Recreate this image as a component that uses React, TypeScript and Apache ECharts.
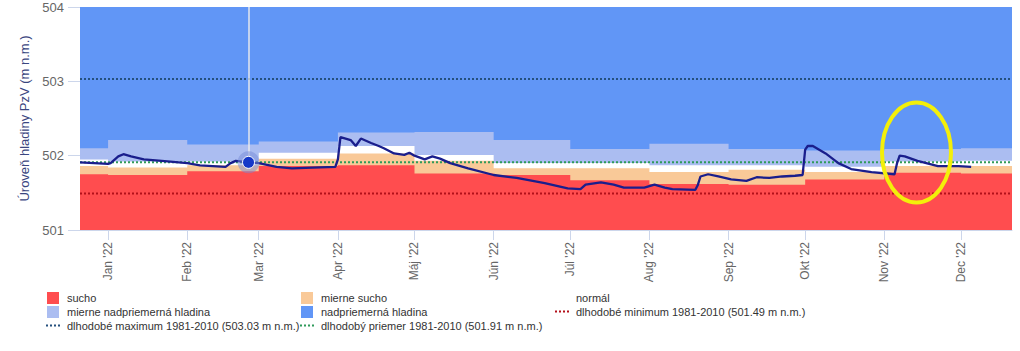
import React, { useEffect, useRef } from "react";
import * as echarts from "echarts";

const monthNames = ["Jan", "Feb", "Mar", "Apr", "Máj", "Jún", "Júl", "Aug", "Sep", "Okt", "Nov", "Dec"];
const tickDates = [
  "2022-01-01", "2022-02-01", "2022-03-01", "2022-04-01", "2022-05-01", "2022-06-01",
  "2022-07-01", "2022-08-01", "2022-09-01", "2022-10-01", "2022-11-01", "2022-12-01",
];
const rangeStart = "2021-12-21";
const rangeEnd = "2022-12-21";

// band boundaries (upper edge of each zone), step per month
const bandDates = [
  "2021-12-21", "2022-01-01", "2022-02-01", "2022-03-01", "2022-04-01", "2022-05-01", "2022-06-01",
  "2022-07-01", "2022-08-01", "2022-09-01", "2022-10-01", "2022-11-01", "2022-12-01", "2022-12-21",
];
const suchoTop = [501.75, 501.74, 501.79, 501.86, 501.87, 501.76, 501.74, 501.67, 501.62, 501.61, 501.68, 501.77, 501.76, 501.76];
const mierneSuchoTop = [501.86, 501.84, 501.87, 501.96, 502.03, 501.93, 501.83, 501.83, 501.78, 501.81, 501.78, 501.86, 501.86, 501.86];
const normalTop = [501.95, 501.92, 501.92, 502.04, 502.13, 502.01, 501.90, 501.90, 501.87, 501.87, 501.85, 501.92, 501.93, 501.93];
const mierneNadTop = [502.10, 502.21, 502.15, 502.19, 502.31, 502.32, 502.21, 502.09, 502.16, 502.09, 502.07, 502.09, 502.10, 502.10];
const nadTop = [504, 504, 504, 504, 504, 504, 504, 504, 504, 504, 504, 504, 504, 504];

const longMax = 503.03;
const longMean = 501.91;
const longMin = 501.49;

const levelDates = [
  "2021-12-21", "2022-01-01", "2022-01-02", "2022-01-05", "2022-01-07", "2022-01-10", "2022-01-15", "2022-01-22",
  "2022-02-01", "2022-02-06", "2022-02-16", "2022-02-18", "2022-02-20", "2022-02-25",
  "2022-03-01", "2022-03-08", "2022-03-14", "2022-03-22", "2022-03-31",
  "2022-04-01", "2022-04-02", "2022-04-06", "2022-04-08", "2022-04-10", "2022-04-14", "2022-04-17", "2022-04-19",
  "2022-04-23", "2022-04-27", "2022-04-29",
  "2022-05-01", "2022-05-05", "2022-05-08", "2022-05-11", "2022-05-15", "2022-05-22",
  "2022-06-01", "2022-06-10", "2022-06-21", "2022-06-30",
  "2022-07-05", "2022-07-07", "2022-07-13", "2022-07-18", "2022-07-22", "2022-07-30",
  "2022-08-03", "2022-08-07", "2022-08-10", "2022-08-19", "2022-08-20", "2022-08-21", "2022-08-24", "2022-08-28",
  "2022-09-02", "2022-09-08", "2022-09-12", "2022-09-17", "2022-09-22", "2022-09-27", "2022-09-30",
  "2022-10-01", "2022-10-02", "2022-10-04", "2022-10-09", "2022-10-14", "2022-10-19", "2022-10-27",
  "2022-11-05", "2022-11-06", "2022-11-07", "2022-11-09", "2022-11-14", "2022-11-22", "2022-11-28", "2022-11-30",
  "2022-12-05",
];
const levelValues = [
  501.91, 501.89, 501.90, 501.99, 502.02, 501.99, 501.95, 501.93,
  501.90, 501.87, 501.85, 501.90, 501.93, 501.91,
  501.90, 501.85, 501.83, 501.84, 501.85,
  501.95, 502.25, 502.21, 502.13, 502.23, 502.17, 502.13, 502.10,
  502.03, 502.01, 502.04,
  502.00, 501.95, 501.99, 501.96, 501.90, 501.83,
  501.74, 501.70, 501.63, 501.56,
  501.55, 501.61, 501.64, 501.61, 501.57, 501.57,
  501.61, 501.57, 501.55, 501.54, 501.61, 501.72, 501.75, 501.72,
  501.68, 501.66, 501.71, 501.70, 501.72, 501.73, 501.74,
  502.08, 502.13, 502.13, 502.03, 501.90, 501.82, 501.78,
  501.75, 501.90, 502.00, 501.99, 501.93, 501.86, 501.86, 501.86,
  501.85,
];
const markerDate = "2022-02-25";
const markerValue = 501.91;

const nameSucho = "sucho";
const nameMierneSucho = "mierne sucho";
const nameNormal = "normál";
const nameMierneNad = "mierne nadpriemerná hladina";
const nameNad = "nadpriemerná hladina";
const nameMin = "dlhodobé minimum 1981-2010 (501.49 m n.m.)";
const nameMax = "dlhodobé maximum 1981-2010 (503.03 m n.m.)";
const nameMean = "dlhodobý priemer 1981-2010 (501.91 m n.m.)";

const ts = (s: string) => {
  const [y, m, d] = s.split("-").map(Number);
  return new Date(y, m - 1, d).getTime();
};

const FONT = "'Liberation Sans', Arial, sans-serif";

export default function App() {
  const ref = useRef<HTMLDivElement>(null);
  useEffect(() => {
    if (!ref.current) return;
    const chart = echarts.init(ref.current, undefined, { renderer: "svg" });
    const bandSeries = (name: string, values: number[], color: string, extra: any = {}) => ({
      name,
      type: "line",
      step: "end",
      silent: true,
      symbol: "none",
      data: bandDates.map((d, i) => [ts(d), values[i]]),
      lineStyle: { width: 0, color },
      itemStyle: { color },
      areaStyle: { color, opacity: 1, origin: "start" },
      ...extra,
    });
    const flatSeries = (name: string, value: number, color: string) => ({
      name,
      type: "line",
      silent: true,
      symbol: "none",
      data: [[ts(rangeStart), value], [ts(rangeEnd), value]],
      lineStyle: { width: 2, type: "dotted", color },
      itemStyle: { color },
    });
    const squareIcon = "path://M0,0h12v12h-12z";
    const dotsIcon = "path://M0,0h2v2h-2z M4,0h2v2h-2z M8,0h2v2h-2z M12,0h2v2h-2z";
    const legendBase = {
      orient: "vertical",
      top: 292,
      padding: 0,
      itemWidth: 14,
      itemHeight: 12,
      itemGap: 2,
      selectedMode: false,
      textStyle: { fontSize: 11, color: "#333", fontFamily: FONT, padding: [0, 0, 0, 2] },
    };
    const tickValues = tickDates.map(ts);
    const option: any = {
      animation: false,
      textStyle: { fontFamily: FONT },
      grid: { left: 80, right: 8, top: 7, bottom: 121, containLabel: false },
      xAxis: {
        type: "value",
        min: ts(rangeStart),
        max: ts(rangeEnd),
        z: 3,
        axisLine: { show: true, lineStyle: { color: "#ccd6eb" } },
        axisTick: { show: true, length: 10, lineStyle: { color: "#ccd6eb" }, customValues: tickValues },
        axisLabel: {
          customValues: tickValues,
          rotate: 90,
          margin: 12,
          fontSize: 12,
          color: "#666",
          fontFamily: FONT,
          formatter: (v: number) => {
            const d = new Date(v);
            return monthNames[d.getMonth()] + " '" + String(d.getFullYear()).slice(2);
          },
        },
        splitLine: { show: true, lineStyle: { color: "rgba(215,215,215,0.5)", width: 1 } },
      },
      yAxis: {
        type: "value",
        min: 501,
        max: 504,
        interval: 1,
        name: "Úroveň hladiny PzV (m n.m.)",
        nameLocation: "middle",
        nameRotate: 90,
        nameGap: 48,
        nameTextStyle: { color: "#3a4680", fontSize: 13, fontFamily: FONT },
        axisLine: { show: false },
        axisTick: { show: true, length: 12, lineStyle: { color: "#ccd6eb" } },
        axisLabel: { margin: 16, fontSize: 13, color: "#666", fontFamily: FONT },
        splitLine: { show: false },
      },
      legend: [
        { ...legendBase, left: 46, data: [
          { name: nameSucho, icon: squareIcon },
          { name: nameMierneNad, icon: squareIcon },
          { name: nameMax, icon: dotsIcon },
        ] },
        { ...legendBase, left: 300, data: [
          { name: nameMierneSucho, icon: squareIcon },
          { name: nameNad, icon: squareIcon },
          { name: nameMean, icon: dotsIcon },
        ] },
        { ...legendBase, left: 555, data: [
          { name: nameNormal, icon: squareIcon },
          { name: nameMin, icon: dotsIcon },
        ] },
      ],
      series: [
        bandSeries(nameNad, nadTop, "#6196f6"),
        bandSeries(nameMierneNad, mierneNadTop, "#abbdf1"),
        bandSeries(nameNormal, normalTop, "#ffffff"),
        bandSeries(nameMierneSucho, mierneSuchoTop, "#f9c998"),
        bandSeries(nameSucho, suchoTop, "#ff4d4f"),
        flatSeries(nameMin, longMin, "#b3101a"),
        flatSeries(nameMax, longMax, "#25507e"),
        flatSeries(nameMean, longMean, "#2f9a5a"),
        {
          name: "Úroveň hladiny PzV",
          type: "line",
          silent: true,
          symbol: "none",
          data: levelDates.map((d, i) => [ts(d), levelValues[i]]),
          lineStyle: { width: 2.3, color: "#1a1e8c" },
          itemStyle: { color: "#1a1e8c" },
          markLine: {
            silent: true,
            symbol: "none",
            label: { show: false },
            lineStyle: { color: "rgba(235,235,235,0.95)", width: 1.5, type: "solid" },
            data: [[{ coord: [ts(markerDate), 504] }, { coord: [ts(markerDate), markerValue] }]],
          },
          markPoint: {
            silent: true,
            symbol: "circle",
            label: { show: false },
            data: [
              { coord: [ts(markerDate), markerValue], symbolSize: 22, itemStyle: { color: "rgba(120,140,215,0.5)" } },
              { coord: [ts(markerDate), markerValue], symbolSize: 12, itemStyle: { color: "#1638c8", borderColor: "#ffffff", borderWidth: 1 } },
            ],
          },
        },
      ],
      graphic: [
        {
          type: "ellipse",
          z: 100,
          shape: { cx: 916.5, cy: 152.5, rx: 34.5, ry: 50 },
          style: { fill: "none", stroke: "#f3ef0a", lineWidth: 4 },
        },
      ],
    };
    chart.setOption(option);
    return () => chart.dispose();
  }, []);
  return <div ref={ref} style={{ position: "fixed", left: 0, top: 0, width: 1020, height: 351, background: "#fff" }} />;
}
